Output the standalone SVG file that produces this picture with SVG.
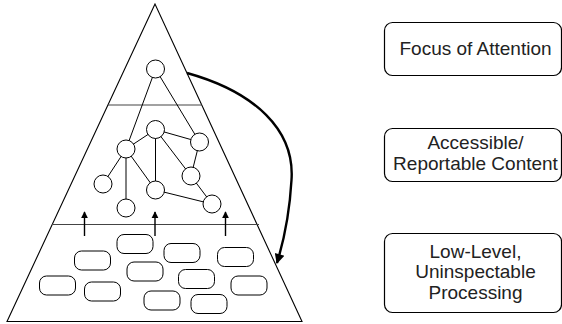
<svg xmlns="http://www.w3.org/2000/svg" width="562" height="324" viewBox="0 0 562 324">
<style>
.tri{fill:none;stroke:#000;stroke-width:1.1}
.div{fill:none;stroke:#444;stroke-width:1.2}
.edge{stroke:#000;stroke-width:1;fill:none}
.node{fill:#fff;stroke:#000;stroke-width:1}
.blob{fill:#fff;stroke:#000;stroke-width:1}
.up{stroke:#000;stroke-width:1.4;fill:none}
.box{fill:#fff;stroke:#000;stroke-width:1.2}
.lbl{font-family:"Liberation Sans",Arial,sans-serif;font-size:19px;fill:#222;text-anchor:middle}
</style>
<defs>
<marker id="ah" viewBox="0 0 10 10" refX="9" refY="5" markerWidth="7" markerHeight="10" markerUnits="userSpaceOnUse" orient="auto">
<path d="M0,0 L10,5 L0,10 z" fill="#000"/>
</marker>
<marker id="bh" viewBox="0 0 10 10" refX="9" refY="5" markerWidth="13" markerHeight="10" markerUnits="userSpaceOnUse" orient="auto">
<path d="M0,0 L10,5 L0,10 z" fill="#000"/>
</marker>
</defs>
<g id="pyramid">
<polygon class="tri" points="155,4 7,321.5 302,321.5"/>
<line class="div" x1="108" y1="105" x2="202" y2="105"/>
<line class="div" x1="52" y1="224.5" x2="259" y2="224.5"/>
</g>
<g id="connectors">
<line class="edge" x1="155.5" y1="69" x2="126" y2="149"/>
<line class="edge" x1="155.5" y1="69" x2="199.5" y2="142"/>
<line class="edge" x1="155.5" y1="129.5" x2="126" y2="149"/>
<line class="edge" x1="155.5" y1="129.5" x2="199.5" y2="142"/>
<line class="edge" x1="155.5" y1="129.5" x2="155.5" y2="190"/>
<line class="edge" x1="155.5" y1="129.5" x2="191" y2="176"/>
<line class="edge" x1="199.5" y1="142" x2="191" y2="176"/>
<line class="edge" x1="126" y1="149" x2="103" y2="184"/>
<line class="edge" x1="126" y1="149" x2="126" y2="208"/>
<line class="edge" x1="126" y1="149" x2="155.5" y2="190"/>
<line class="edge" x1="155.5" y1="190" x2="212" y2="204"/>
<line class="edge" x1="191" y1="176" x2="212" y2="204"/>
<line class="up" x1="84.5" y1="236" x2="84.5" y2="212" marker-end="url(#ah)"/>
<line class="up" x1="155" y1="236" x2="155" y2="212" marker-end="url(#ah)"/>
<line class="up" x1="225.5" y1="236" x2="225.5" y2="212" marker-end="url(#ah)"/>
<path d="M187,73 C255,92 295,130 291.5,180 C289.5,215 284,240 277,263" fill="none" stroke="#000" stroke-width="2.4" marker-end="url(#bh)"/>
</g>
<g id="graph-nodes">
<circle class="node" cx="155.5" cy="69" r="9"/>
<circle class="node" cx="155.5" cy="129.5" r="9"/>
<circle class="node" cx="199.5" cy="142" r="9"/>
<circle class="node" cx="126" cy="149" r="9"/>
<circle class="node" cx="191" cy="176" r="9"/>
<circle class="node" cx="103" cy="184" r="9"/>
<circle class="node" cx="155.5" cy="190" r="9"/>
<circle class="node" cx="126" cy="208" r="9"/>
<circle class="node" cx="212" cy="204" r="9"/>
</g>
<g id="low-level-blobs">
<rect class="blob" x="117" y="234.5" width="36" height="19" rx="7"/>
<rect class="blob" x="164" y="243.5" width="36" height="19" rx="7"/>
<rect class="blob" x="217.5" y="247.5" width="36" height="19" rx="7"/>
<rect class="blob" x="74.5" y="251" width="36" height="19" rx="7"/>
<rect class="blob" x="127" y="262" width="36" height="19" rx="7"/>
<rect class="blob" x="178.5" y="269.5" width="36" height="19" rx="7"/>
<rect class="blob" x="39.5" y="276" width="36" height="19" rx="7"/>
<rect class="blob" x="84.5" y="282" width="36" height="19" rx="7"/>
<rect class="blob" x="231" y="276" width="36" height="19" rx="7"/>
<rect class="blob" x="144" y="291" width="36" height="19" rx="7"/>
<rect class="blob" x="191" y="294.5" width="36" height="19" rx="7"/>
</g>
<g id="focus-of-attention">
<rect class="box" x="384.5" y="22.5" width="177" height="53" rx="8"/>
<text class="lbl" x="475.5" y="55">Focus of Attention</text>
</g>
<g id="accessible-content">
<rect class="box" x="384.5" y="128.5" width="177" height="53" rx="8"/>
<text class="lbl" x="475.5" y="149">Accessible/</text>
<text class="lbl" x="475.5" y="169.5">Reportable Content</text>
</g>
<g id="low-level-processing">
<rect class="box" x="384.5" y="233.5" width="177" height="79" rx="8"/>
<text class="lbl" x="475.5" y="257.5">Low-Level,</text>
<text class="lbl" x="475.5" y="278">Uninspectable</text>
<text class="lbl" x="475.5" y="298.5">Processing</text>
</g>
</svg>
